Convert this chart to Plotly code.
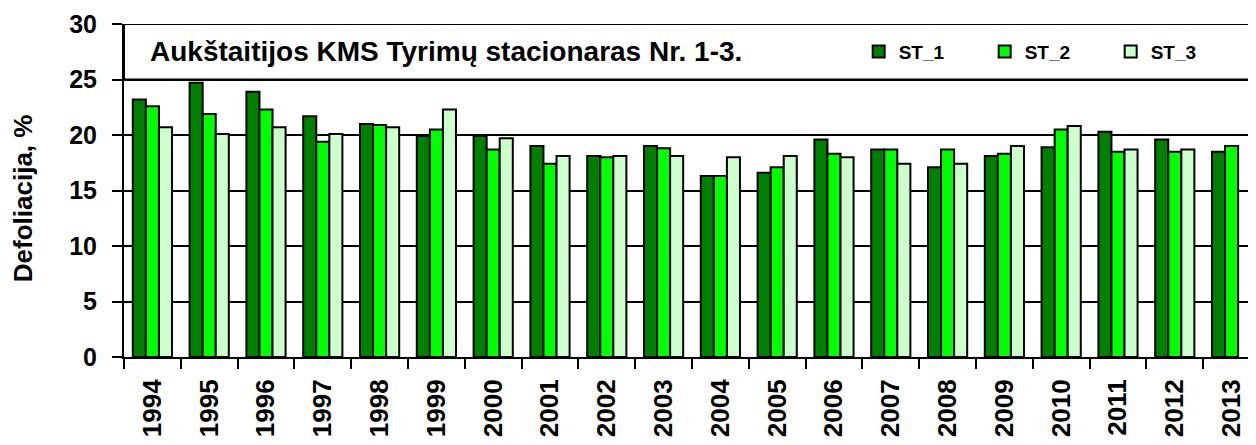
import plotly.graph_objects as go

anos = [str(a) for a in range(1994, 2014)]

st_1 = [23.2, 24.7, 23.9, 21.7, 21.0, 19.9, 19.9, 19.0, 18.1, 19.0,
        16.3, 16.6, 19.6, 18.7, 17.1, 18.1, 18.9, 20.3, 19.6, 18.5]
st_2 = [22.6, 21.9, 22.3, 19.4, 20.9, 20.5, 18.7, 17.4, 18.0, 18.8,
        16.3, 17.1, 18.3, 18.7, 18.7, 18.3, 20.5, 18.5, 18.5, 19.0]
st_3 = [20.7, 20.1, 20.7, 20.1, 20.7, 22.3, 19.7, 18.1, 18.1, 18.1,
        18.0, 18.1, 18.0, 17.4, 17.4, 19.0, 20.8, 18.7, 18.7, None]

serie_nomes = ["ST_1", "ST_2", "ST_3"]
cores = ["#008000", "#00FF00", "#CCFFCC"]

fonte = "Arial, Liberation Sans, sans-serif"

fig = go.Figure()
for nome, valores, cor in zip(serie_nomes, [st_1, st_2, st_3], cores):
    fig.add_trace(go.Bar(
        x=anos, y=valores, name=nome,
        marker=dict(color=cor, line=dict(color="black", width=2)),
    ))

# caixa do titulo dentro da area do grafico
fig.add_shape(type="rect", xref="paper", yref="y", x0=0, x1=1, y0=25, y1=30,
              fillcolor="white", line=dict(color="black", width=2), layer="above")

fig.add_annotation(
    text="Aukštaitijos KMS Tyrimų stacionaras Nr. 1-3.",
    xref="paper", yref="y", x=0.021, y=27.5, xanchor="left", yanchor="middle",
    showarrow=False, font=dict(family=fonte, size=28, color="black", weight="bold"),
)

fig.add_annotation(
    text="Defoliacija, %", textangle=-90,
    xref="paper", yref="paper", x=-0.0892, y=0.477, xanchor="center", yanchor="middle",
    showarrow=False, font=dict(family=fonte, size=26, color="black", weight="bold"),
)

# a pagina tem margem de 8px no body, por isso 1248x437
fig.update_layout(
    width=1248, height=437,
    margin=dict(l=116, r=0, t=16, b=88),
    plot_bgcolor="white", paper_bgcolor="white",
    barmode="group", bargap=0.31, bargroupgap=0,
    showlegend=True,
    legend=dict(
        orientation="h", x=0.649, y=0.917, xanchor="left", yanchor="middle",
        bgcolor="rgba(0,0,0,0)", itemwidth=30,
        entrywidth=81, entrywidthmode="pixels",
        font=dict(family=fonte, size=19, color="black", weight="bold"),
    ),
    xaxis=dict(
        range=[-0.5, 19.43], tickson="boundaries", ticks="outside", ticklen=10,
        tickwidth=2, tickcolor="black", showline=True, linecolor="black", linewidth=2,
        tickangle=-90, showgrid=False, ticklabelstandoff=10,
        tickfont=dict(family=fonte, size=26, color="black", weight="bold"),
    ),
    yaxis=dict(
        range=[0, 30], dtick=5, ticks="outside", ticklen=10, tickwidth=2,
        tickcolor="black", showline=True, linecolor="black", linewidth=2,
        showgrid=True, gridcolor="black", gridwidth=2, zeroline=False,
        ticklabelstandoff=10,
        tickfont=dict(family=fonte, size=25, color="black", weight="bold"),
    ),
)

fig.write_html("out.html")
